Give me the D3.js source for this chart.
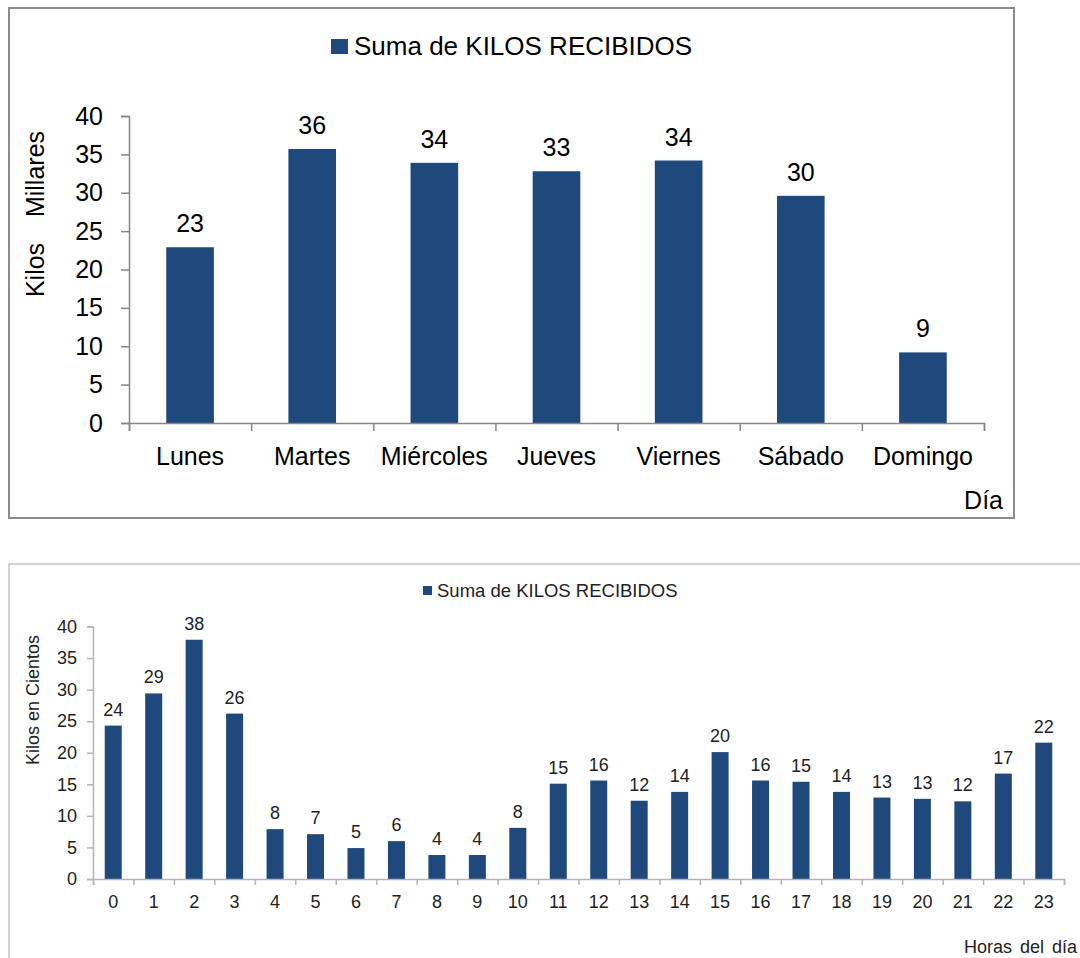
<!DOCTYPE html>
<html>
<head>
<meta charset="utf-8">
<script src="https://cdn.jsdelivr.net/npm/d3@7"></script>
<style>
  body { margin: 0; background: #fff; }
  svg { display: block; font-family: "Liberation Sans", Arial, sans-serif; }
</style>
</head>
<body>
<svg id="chart" width="1080" height="958"></svg>
<script>
// chart 1: kilos per weekday (thousands)
const dias = ['Lunes', 'Martes', 'Miércoles', 'Jueves', 'Viernes', 'Sábado', 'Domingo']
const kilosDia = [22.9, 35.7, 33.9, 32.8, 34.2, 29.6, 9.2]
const ticksDia = [0, 5, 10, 15, 20, 25, 30, 35, 40]

// chart 2: kilos per hour of day (hundreds)
const horas = ['0', '1', '2', '3', '4', '5', '6', '7', '8', '9', '10', '11',
    '12', '13', '14', '15', '16', '17', '18', '19', '20', '21', '22', '23']
const kilosHora = [24.3, 29.4, 37.9, 26.2, 7.9, 7.1, 4.9, 6.0, 3.8, 3.8, 8.1, 15.1,
    15.6, 12.4, 13.8, 20.1, 15.6, 15.4, 13.8, 12.9, 12.7, 12.3, 16.7, 21.6]
const ticksHora = [0, 5, 10, 15, 20, 25, 30, 35, 40]

const serie = 'Suma de KILOS RECIBIDOS'
const barColor = '#1f497d'
const fmt = d3.format('.0f')

const svg = d3.select('#chart')

const drawChart = (cfg) => {
    const g = svg.append('g')

    // frame
    g.append('rect')
        .attr('x', cfg.box[0]).attr('y', cfg.box[1])
        .attr('width', cfg.box[2]).attr('height', cfg.box[3])
        .attr('fill', 'none')
        .attr('stroke', cfg.frameColor)
        .attr('stroke-width', cfg.frameWidth)

    const x = d3.scaleBand()
        .domain(cfg.cats)
        .range([cfg.left, cfg.right])
        .paddingInner(cfg.pad)
        .paddingOuter(cfg.pad / 2)

    const y = d3.scaleLinear().domain([0, 40]).range([cfg.bottom, cfg.top])

    // bars
    g.append('g')
        .selectAll('rect')
        .data(cfg.values)
        .join('rect')
        .attr('x', (d, i) => x(cfg.cats[i]))
        .attr('y', d => y(d))
        .attr('width', x.bandwidth())
        .attr('height', d => y(0) - y(d))
        .attr('fill', barColor)

    // y axis
    const yAxis = g.append('g')
        .attr('transform', `translate(${cfg.left},0)`)
        .call(d3.axisLeft(y).tickValues(cfg.yTicks).tickSize(cfg.tickLen).tickPadding(cfg.yPad))
    yAxis.selectAll('path, line').attr('stroke', cfg.axisColor).attr('stroke-width', cfg.axisWidth)
    yAxis.selectAll('text')
        .attr('font-size', cfg.fontSize)
        .attr('font-family', 'Liberation Sans, Arial, sans-serif')
        .attr('fill', cfg.textColor)

    // x axis: ticks between categories
    const edge = d3.scaleLinear().domain([0, cfg.cats.length]).range([cfg.left, cfg.right])
    const xEdge = g.append('g')
        .attr('transform', `translate(0,${cfg.bottom})`)
        .call(d3.axisBottom(edge).tickValues(d3.range(cfg.cats.length + 1)).tickFormat('').tickSizeInner(cfg.tickLen).tickSizeOuter(cfg.tickLen))
    xEdge.selectAll('path, line').attr('stroke', cfg.axisColor).attr('stroke-width', cfg.axisWidth)

    // x axis labels
    const xLab = g.append('g')
        .attr('transform', `translate(0,${cfg.bottom})`)
        .call(d3.axisBottom(x).tickSize(0).tickPadding(cfg.xPad))
    xLab.select('.domain').remove()
    xLab.selectAll('text')
        .attr('font-size', cfg.fontSize)
        .attr('font-family', 'Liberation Sans, Arial, sans-serif')
        .attr('fill', cfg.textColor)

    // data labels
    g.append('g')
        .selectAll('text')
        .data(cfg.values)
        .join('text')
        .attr('x', (d, i) => x(cfg.cats[i]) + x.bandwidth() / 2)
        .attr('y', d => y(d) - cfg.labelGap)
        .attr('text-anchor', 'middle')
        .attr('font-size', cfg.fontSize)
        .attr('fill', cfg.textColor)
        .text(d => fmt(d))

    // legend
    g.append('rect')
        .attr('x', cfg.legend[0]).attr('y', cfg.legend[1])
        .attr('width', cfg.legend[2]).attr('height', cfg.legend[3])
        .attr('fill', barColor)
    g.append('text')
        .attr('x', cfg.legend[4]).attr('y', cfg.legend[5])
        .attr('font-size', cfg.legendSize)
        .attr('fill', cfg.textColor)
        .text(serie)

    // axis titles
    cfg.yTitles.forEach(t => {
        g.append('text')
            .attr('transform', `translate(${t.x},${t.y}) rotate(-90)`)
            .attr('text-anchor', 'middle')
            .attr('font-size', t.size)
            .attr('fill', cfg.textColor)
            .text(t.text)
    })
    g.append('text')
        .attr('x', cfg.xTitle.x).attr('y', cfg.xTitle.y)
        .attr('text-anchor', 'end')
        .attr('font-size', cfg.xTitle.size)
        .attr('fill', cfg.textColor)
        .attr('word-spacing', cfg.xTitle.ws || 0)
        .text(cfg.xTitle.text)
}

drawChart({
    cats: dias, values: kilosDia, yTicks: ticksDia,
    box: [9, 8, 1005, 510], frameColor: '#8c8c8c', frameWidth: 2,
    left: 129, right: 984, top: 116, bottom: 423, pad: 0.61,
    axisColor: '#868686', axisWidth: 1.5, tickLen: 8, yPad: 18, xPad: 24,
    fontSize: 25, textColor: '#000', labelGap: 15,
    legend: [331, 39, 17, 15, 354, 55], legendSize: 26,
    yTitles: [
        { text: 'Millares', x: 44, y: 174, size: 25 },
        { text: 'Kilos', x: 44, y: 270, size: 25 }
    ],
    xTitle: { text: 'Día', x: 1003, y: 509, size: 25 }
})

drawChart({
    cats: horas, values: kilosHora, yTicks: ticksHora,
    box: [9, 564, 1200, 600], frameColor: '#c4c4c4', frameWidth: 1.5,
    left: 93, right: 1064, top: 626.5, bottom: 879, pad: 0.58,
    axisColor: '#b4b4b4', axisWidth: 1.5, tickLen: 6, yPad: 10, xPad: 16,
    fontSize: 18, textColor: '#222', labelGap: 10,
    legend: [423, 586, 9, 9, 437, 597], legendSize: 18.5,
    yTitles: [
        { text: 'Kilos en Cientos', x: 39, y: 700, size: 18 }
    ],
    xTitle: { text: 'Horas del día', x: 1077, y: 953, size: 18, ws: 3 }
})
</script>
</body>
</html>
